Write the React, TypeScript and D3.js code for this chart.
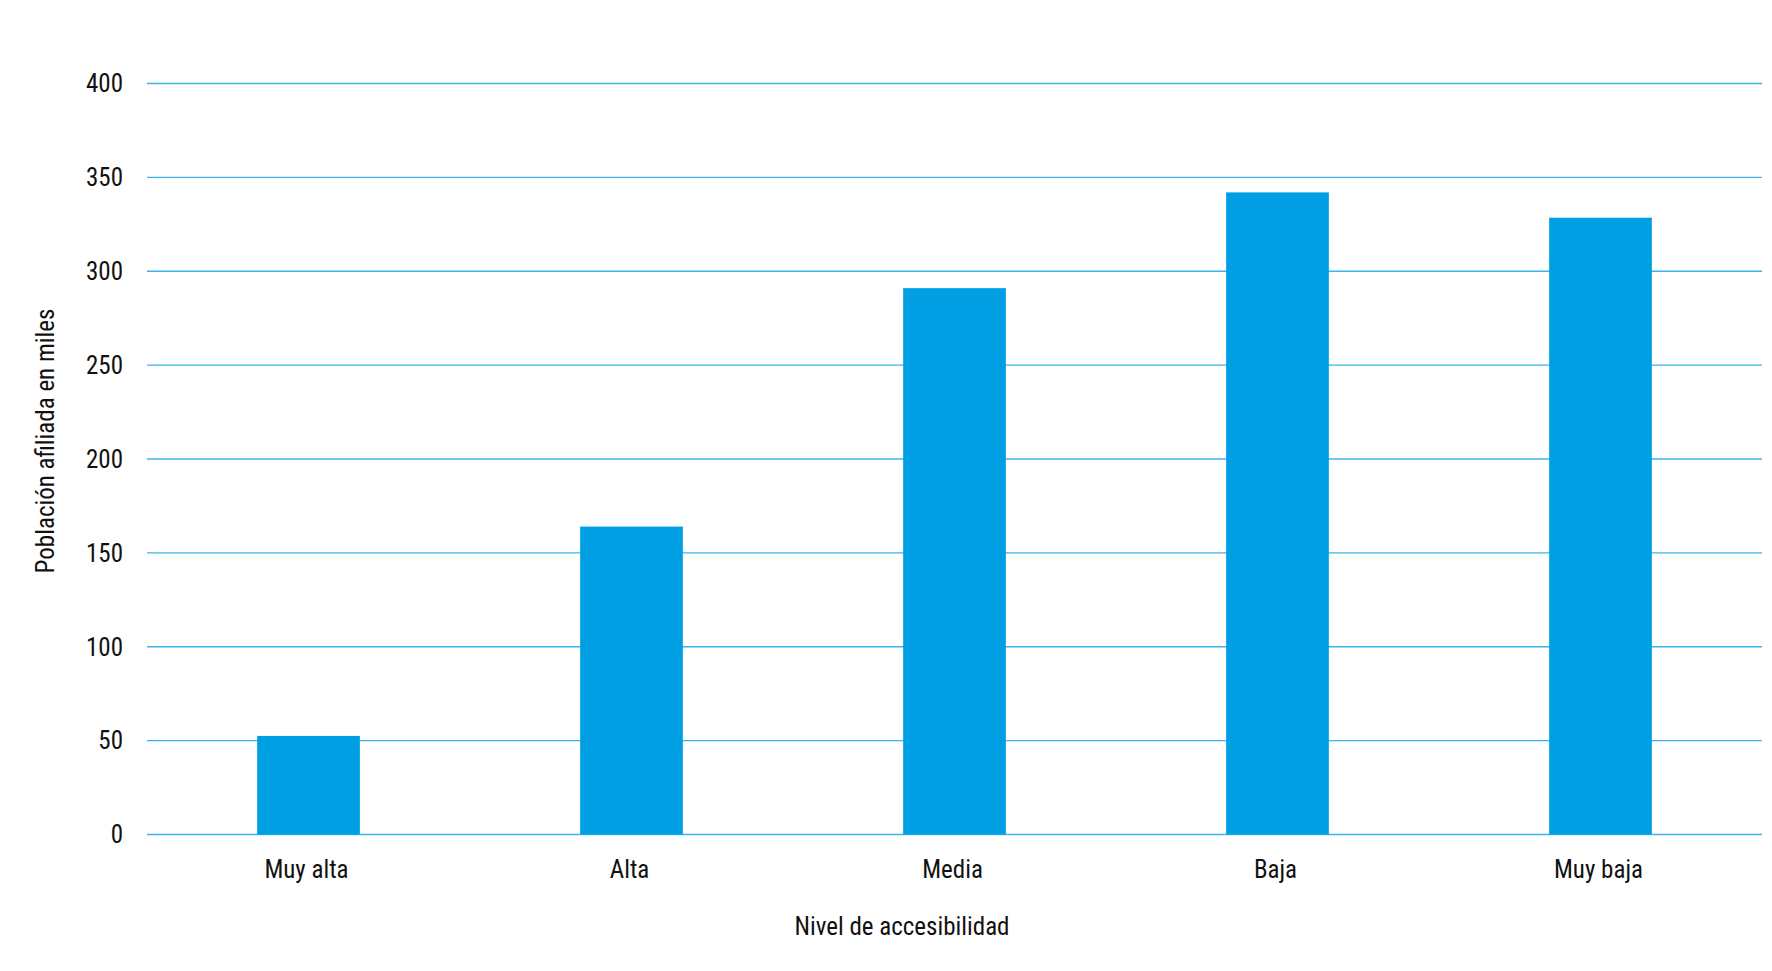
import React from "react";
import * as d3 from "d3";

const categories = ["Muy alta", "Alta", "Media", "Baja", "Muy baja"];
const values = [52.5, 164, 291, 342, 328.5];
const yTicks = [0, 50, 100, 150, 200, 250, 300, 350, 400];
const xTitle = "Nivel de accesibilidad";
const yTitle = "Población afiliada en miles";

const W = 1772;
const H = 971;
const FONT = "'Roboto Condensed', 'Liberation Sans Narrow', 'DejaVu Sans Condensed', Roboto, sans-serif";

export default function App() {
  const x = d3.scaleBand<string>().domain(categories).range([147, 1762]).paddingInner(0.682).paddingOuter(0.341);
  const y = d3.scaleLinear().domain([0, 400]).range([834.5, 83.5]);
  return (
    <svg width={W} height={H} style={{ position: "absolute", left: 0, top: 0, background: "#fff" }} fontFamily={FONT}>
      {yTicks.map((t) => (
        <g key={t}>
          <line x1={147} x2={1762} y1={y(t)} y2={y(t)} stroke="#3cb4ea" strokeWidth={1.3} />
          <text x={123} y={y(t)} dy="0.35em" textAnchor="end" fontSize={25} fill="#111">{t}</text>
        </g>
      ))}
      {categories.map((c, i) => (
        <rect key={c} x={x(c)} y={y(values[i])} width={x.bandwidth()} height={y(0) - y(values[i])} fill="#009fe3" />
      ))}
      {categories.map((c) => (
        <text key={c} x={(x(c) as number) + x.bandwidth() / 2 - 2} y={878} textAnchor="middle" fontSize={25} fill="#111">{c}</text>
      ))}
      <text x={902} y={935} textAnchor="middle" fontSize={25} fill="#111">{xTitle}</text>
      <text transform={`translate(54,441) rotate(-90)`} textAnchor="middle" fontSize={25} fill="#111">{yTitle}</text>
    </svg>
  );
}
